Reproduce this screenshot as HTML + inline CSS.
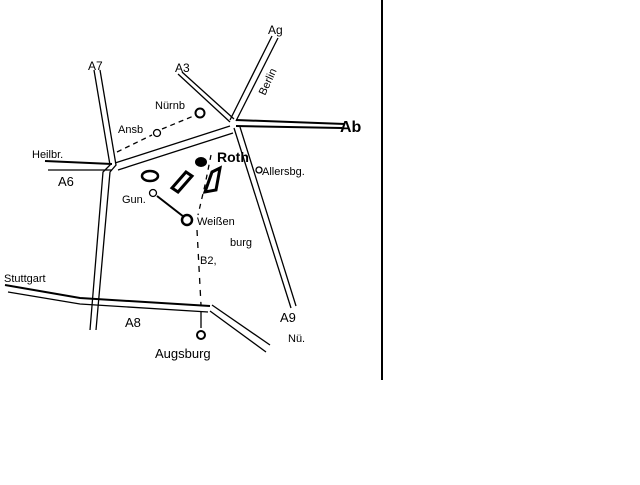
<!DOCTYPE html>
<html><head><style>
body{margin:0;background:#fff;width:640px;height:480px;overflow:hidden}
text{font-family:"Liberation Sans",sans-serif;fill:#000}
</style></head><body>
<svg width="640" height="480" viewBox="0 0 640 480" xmlns="http://www.w3.org/2000/svg">
<rect x="381" y="0" width="2" height="380" fill="#000"/>
<g fill="none" stroke="#000" stroke-width="1.3">
<polyline points="94,70 110,165 103,172 90,330"/>
<polyline points="100,70 116,165 110,172 96,330"/>
<polyline points="45,161 112,164" stroke-width="2"/>
<polyline points="48,170 112,170"/>
<polyline points="115,163 230,126"/>
<polyline points="118,170 233,133"/>
<polyline points="178,74 230,122"/>
<polyline points="182,72 234,119"/>
<polyline points="272,36 230,120"/>
<polyline points="278,38 236,121"/>
<polyline points="236,120 345,124" stroke-width="2"/>
<polyline points="236,126 342,128" stroke-width="2"/>
<polyline points="234,128 291,308"/>
<polyline points="240,127 296,306"/>
<polyline points="5,285 80,298 210,306" stroke-width="2"/>
<polyline points="8,292 80,304 208,312"/>
<polyline points="212,305 270,345"/>
<polyline points="210,311 266,352"/>
<polyline points="117,152 152,135" stroke-dasharray="5,4"/>
<polyline points="162,129 196,115" stroke-dasharray="5,4"/>
<polyline points="211,155 205,185 198,215" stroke-dasharray="5,5"/>
<polyline points="197,230 201,305" stroke-dasharray="6,6"/>
<line x1="201" y1="312" x2="201" y2="328"/>
<line x1="157" y1="196" x2="184" y2="217" stroke-width="2"/>
<circle cx="200" cy="113" r="4.5" stroke-width="2"/>
<circle cx="157" cy="133" r="3.5"/>
<circle cx="153" cy="193" r="3.5"/>
<circle cx="187" cy="220" r="5" stroke-width="2.5"/>
<circle cx="201" cy="335" r="4" stroke-width="2"/>
<circle cx="259" cy="170" r="3"/>
<ellipse cx="150" cy="176" rx="8" ry="5" stroke-width="2.5"/>
<path d="M172,188 L186,172 L192,176 L178,192 Z" stroke-width="3"/>
<path d="M205,192 L212,172 L220,168 L216,190 Z" stroke-width="3"/>
</g>
<ellipse cx="201" cy="162" rx="6" ry="5" fill="#000"/>
<g font-size="11">
<text x="88" y="70" font-size="12">A7</text>
<text x="175" y="72" font-size="12">A3</text>
<text x="268" y="34" font-size="12">Ag</text>
<text x="0" y="0" transform="translate(265,96) rotate(-65)">Berlin</text>
<text x="155" y="109">Nürnb</text>
<text x="118" y="133">Ansb</text>
<text x="32" y="158">Heilbr.</text>
<text x="58" y="186" font-size="13">A6</text>
<text x="340" y="132" font-size="16" font-weight="bold">Ab</text>
<text x="217" y="162" font-size="14" font-weight="bold">Roth</text>
<text x="262" y="175">Allersbg.</text>
<text x="122" y="203">Gun.</text>
<text x="197" y="225">Weißen</text>
<text x="230" y="246">burg</text>
<text x="200" y="264">B2,</text>
<text x="4" y="282">Stuttgart</text>
<text x="125" y="327" font-size="13">A8</text>
<text x="280" y="322" font-size="13">A9</text>
<text x="288" y="342">Nü.</text>
<text x="155" y="358" font-size="13">Augsburg</text>
</g>
</svg>
</body></html>
